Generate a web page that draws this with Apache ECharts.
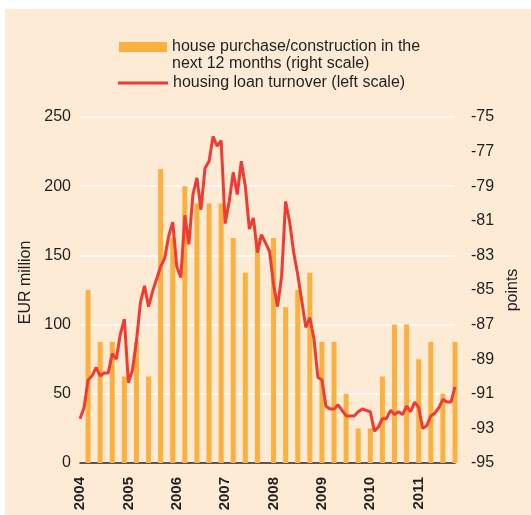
<!DOCTYPE html>
<html>
<head>
<meta charset="UTF-8">
<title>housing loans</title>
<script src="https://cdn.jsdelivr.net/npm/echarts@6/dist/echarts.min.js"></script>
<style>
  html, body { margin: 0; padding: 0; background: #fff; }
  #chart { position: absolute; left: 5px; top: 9px; width: 526px; height: 506px; background: #fdebd5; }
</style>
</head>
<body>
<div id="chart"></div>
<script>
// monthly housing loan turnover, EUR million (left scale), Jan 2004 - Oct 2011
const loanTurnover = [
  32, 40, 60, 63, 69, 63, 65, 65, 79, 75, 93, 104,
  58, 67, 88, 116, 128, 113, 124, 133, 142, 148, 164, 174,
  142, 134, 179, 158, 194, 206, 183, 213, 218, 236, 229, 233,
  173, 189, 210, 194, 218, 200, 169, 177, 152, 165, 159, 153,
  129, 113, 135, 189, 174, 152, 136, 117, 98, 105, 90, 62,
  60, 41, 39, 39, 42, 38, 34, 34, 34, 37, 39, 38,
  37, 23, 26, 32, 32, 38, 35, 37, 35, 41, 37, 44,
  40, 25, 27, 34, 36, 40, 46, 44, 44, 55
];

// survey: house purchase/construction in the next 12 months, points (right scale)
const surveyDates = [
  '2004-03', '2004-06', '2004-09', '2004-12',
  '2005-03', '2005-06', '2005-09', '2005-12',
  '2006-03', '2006-06', '2006-09', '2006-12',
  '2007-03', '2007-06', '2007-09',
  '2008-01', '2008-04', '2008-07', '2008-10',
  '2009-01', '2009-04', '2009-07', '2009-10',
  '2010-01', '2010-04', '2010-07', '2010-10',
  '2011-01', '2011-04', '2011-07', '2011-10'
];
const surveyBalance = [
  -85, -88, -88, -90,
  -88, -90, -78, -82,
  -79, -80, -80, -80,
  -82, -84, -82,
  -82, -86, -85, -84,
  -88, -88, -91, -93,
  -93, -90, -87, -87,
  -89, -88, -91, -88
];

const barName = 'house purchase/construction in the\nnext 12 months (right scale)';
const lineName = 'housing loan turnover (left scale)';

// month categories
const months = [];
for (let y = 2004; y <= 2011; y++) {
  for (let m = 1; m <= 12; m++) {
    if (y === 2011 && m > 10) break;
    months.push(y + '-' + (m < 10 ? '0' + m : m));
  }
}

const txt = '#231f20';
const font = 'Liberation Sans, Arial, sans-serif';

const chart = echarts.init(document.getElementById('chart'));
chart.setOption({
  animation: false,
  textStyle: { fontFamily: font, color: txt },
  // second line of the bar legend label sits under the first one
  title: {
    text: barName.split('\n')[1],
    left: 167, top: 47, padding: 0,
    textStyle: { fontSize: 16, lineHeight: 16, fontWeight: 'normal', color: txt, fontFamily: font }
  },
  legend: [
    {
      data: [{ name: barName, icon: 'rect' }],
      left: 114, top: 30, padding: 0,
      itemWidth: 48, itemHeight: 10,
      formatter: name => name.split('\n')[0],
      textStyle: { fontSize: 16, lineHeight: 16, color: txt, fontFamily: font }
    },
    {
      data: [{ name: lineName, icon: 'rect' }],
      left: 113, top: 66, padding: 0,
      itemWidth: 50, itemHeight: 3,
      textStyle: { fontSize: 16, lineHeight: 16, color: txt, fontFamily: font }
    }
  ],
  grid: { left: 75, right: 76, top: 108, bottom: 52 },
  xAxis: {
    type: 'category',
    data: months,
    boundaryGap: false,
    axisLine: { lineStyle: { color: txt, width: 1.5 } },
    axisTick: { show: false },
    splitLine: { show: false },
    axisLabel: {
      interval: 11,
      rotate: 90,
      margin: 14,
      fontSize: 15,
      fontWeight: 'bold',
      color: txt,
      padding: [6, 0, 0, 0],
      formatter: v => v.slice(0, 4)
    }
  },
  yAxis: [
    {
      type: 'value',
      min: 0, max: 250, interval: 50,
      name: 'EUR million',
      nameLocation: 'middle',
      nameGap: 45,
      nameTextStyle: { fontSize: 16, color: txt, padding: [0, 0, 0, 15] },
      axisLine: { show: false },
      axisTick: { show: false },
      axisLabel: { fontSize: 16, color: txt, margin: 9 },
      splitLine: { lineStyle: { color: '#ffffff', width: 1.5 } }
    },
    {
      type: 'value',
      position: 'right',
      min: -95, max: -75, interval: 2,
      startValue: -95,
      name: 'points',
      nameLocation: 'middle',
      nameGap: 48,
      nameTextStyle: { fontSize: 16, color: txt },
      axisLine: { show: false },
      axisTick: { show: false },
      axisLabel: { fontSize: 16, color: txt, margin: 16 },
      splitLine: { show: false }
    }
  ],
  series: [
    {
      name: barName,
      type: 'bar',
      yAxisIndex: 1,
      barWidth: 5,
      itemStyle: { color: '#fbb040' },
      data: surveyDates.map((d, i) => [d, surveyBalance[i]])
    },
    {
      name: lineName,
      type: 'line',
      yAxisIndex: 0,
      symbol: 'none',
      lineStyle: { color: '#ee3b33', width: 3 },
      itemStyle: { color: '#ee3b33' },
      data: loanTurnover
    }
  ]
});
</script>
</body>
</html>
